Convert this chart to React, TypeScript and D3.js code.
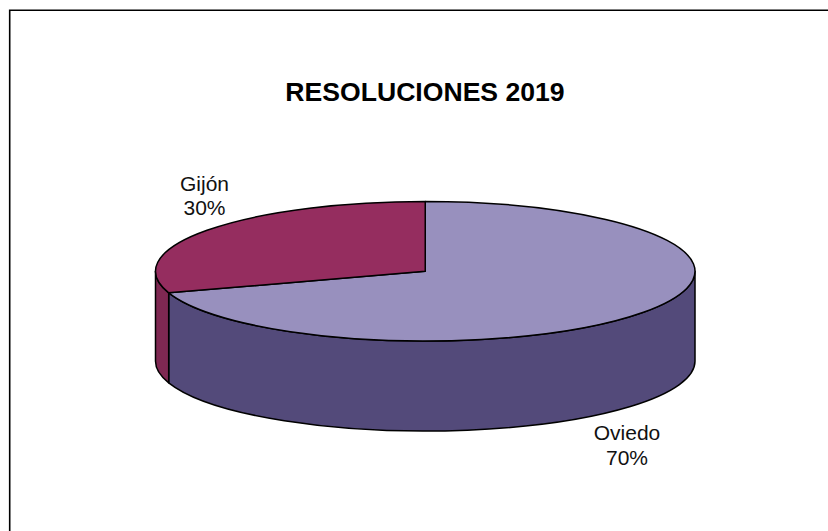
import React from "react";
import * as d3 from "d3";

const W = 828, H = 531;
const categories = ["Oviedo", "Gijón"];
const shares = [70, 30];
const topColors = ["#9890BE", "#952D5F"];
const sideColors = ["#534A7A", "#7F2852"];
const titleText = "RESOLUCIONES 2019";

const depth = 90;
const px = d3.scaleLinear().domain([-1, 1]).range([155.5, 695]);
const py = d3.scaleLinear().domain([-1, 1]).range([201.5, 341]);
const rx = (px(1) - px(-1)) / 2;
const ry = (py(1) - py(-1)) / 2;
const cx = px(0), cy = py(0);
const ex = (t: number) => px(Math.sin(t));
const ey = (t: number) => py(-Math.cos(t));

const pie = d3.pie<number>().sort(null).startAngle(0).endAngle(2 * Math.PI);
const slices = pie(shares);

function topPath(a: number, b: number) {
  const large = b - a > Math.PI ? 1 : 0;
  return `M${cx},${cy}L${ex(a)},${ey(a)}A${rx},${ry} 0 ${large} 1 ${ex(b)},${ey(b)}Z`;
}
function sidePath(a0: number, b0: number) {
  const a = Math.max(a0, Math.PI / 2), b = Math.min(b0, (3 * Math.PI) / 2);
  if (b <= a) return null;
  return `M${ex(a)},${ey(a)}A${rx},${ry} 0 0 1 ${ex(b)},${ey(b)}L${ex(b)},${ey(b) + depth}A${rx},${ry} 0 0 0 ${ex(a)},${ey(a) + depth}Z`;
}

const labelPos = [
  { x: 627, y: 440 },
  { x: 204.5, y: 190.5 },
];
const fontFamily = "'Liberation Sans', Arial, sans-serif";

export default function App() {
  return (
    <svg width={W} height={H} style={{ position: "absolute", left: 0, top: 0, display: "block" }} fontFamily={fontFamily}>
      <rect width={W} height={H} fill="#fff" />
      <path d={`M9.7,${H}V10.2H${W}`} fill="none" stroke="#000" strokeWidth={1.6} />
      <text x={425} y={101} textAnchor="middle" fontSize={26.6} fontWeight="bold" fill="#000">{titleText}</text>
      {slices.map((s, i) => {
        const d = sidePath(s.startAngle, s.endAngle);
        return d ? <path key={"side" + i} d={d} fill={sideColors[i]} stroke="#000" strokeWidth={1.5} strokeLinejoin="round" /> : null;
      })}
      {slices.map((s, i) => (
        <path key={"top" + i} d={topPath(s.startAngle, s.endAngle)} fill={topColors[i]} stroke="#000" strokeWidth={1.5} strokeLinejoin="round" />
      ))}
      {categories.map((c, i) => (
        <text key={c} textAnchor="middle" fontSize={21} fill="#111">
          <tspan x={labelPos[i].x} y={labelPos[i].y}>{c}</tspan>
          <tspan x={labelPos[i].x} y={labelPos[i].y + 24.5}>{shares[i]}%</tspan>
        </text>
      ))}
    </svg>
  );
}
